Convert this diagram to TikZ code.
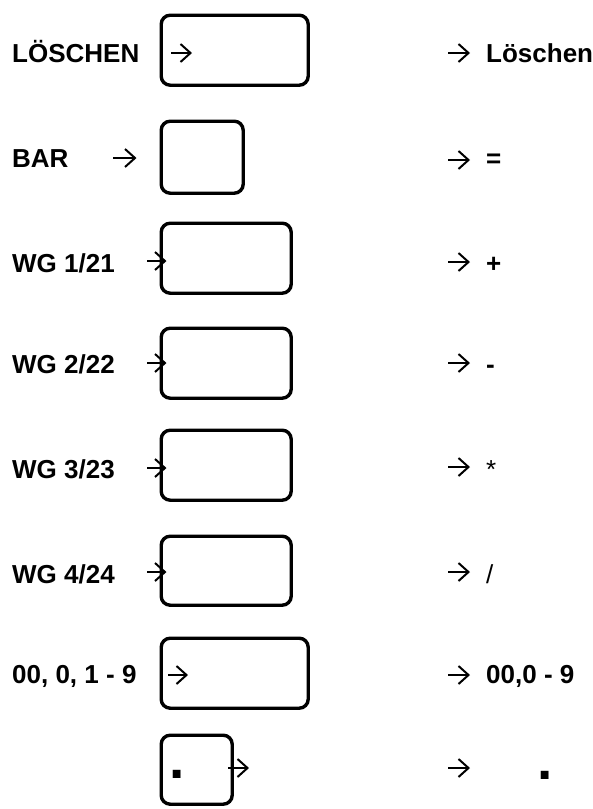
\documentclass[tikz,border=0pt]{standalone}
\usepackage{fontspec}
\setmainfont{Liberation Sans}
\usetikzlibrary{arrows.meta, positioning}

\tikzset{
    taste/.style = {draw, line width = 3.4pt, rounded corners = 9pt, inner sep = 0pt, anchor = north west},
    beschriftung/.style = {font = \bfseries\fontsize{26}{30}\selectfont, anchor = base west, inner sep = 0pt},
    zeichen/.style = {font = \fontsize{26}{30}\selectfont, anchor = base west, inner sep = 0pt},
    punkt/.style = {font = \bfseries\fontsize{55}{55}\selectfont, anchor = base west, inner sep = 0pt},
    pfeil/.style = {-{Straight Barb[length = 10pt, width = 18pt]}, line width = 2pt},
}

\begin{document}
\begin{tikzpicture}[x = 1pt, y = -1pt]
    \useasboundingbox (0,0) rectangle (593,809);

    % Tasten
    \node[taste, minimum width = 147pt, minimum height = 70pt] (t1) at (159.5,13.5) {};
    \node[taste, minimum width = 82pt,  minimum height = 72pt] (t2) at (159.5,119.5) {};
    \node[taste, minimum width = 130pt, minimum height = 70pt] (t3) at (159.5,221.5) {};
    \node[taste, minimum width = 130pt, minimum height = 70pt] (t4) at (159.5,326.5) {};
    \node[taste, minimum width = 130pt, minimum height = 70pt] (t5) at (159.5,428.5) {};
    \node[taste, minimum width = 130pt, minimum height = 69pt] (t6) at (159.5,534.5) {};
    \node[taste, minimum width = 147pt, minimum height = 70pt] (t7) at (159.5,636.5) {};
    \node[taste, minimum width = 71pt,  minimum height = 69pt] (t8) at (159.5,733.5) {};

    % linke Spalte
    \node[beschriftung] (l1) at (12,62)  {LÖSCHEN};
    \node[beschriftung] (l2) at (12,167) {BAR};
    \node[beschriftung] (l3) at (12,272) {WG 1/21};
    \node[beschriftung] (l4) at (12,373) {WG 2/22};
    \node[beschriftung] (l5) at (12,478) {WG 3/23};
    \node[beschriftung] (l6) at (12,583) {WG 4/24};
    \node[beschriftung] (l7) at (12,683) {00, 0, 1 - 9};
    \node[punkt] (p8) at (169,778) {.};

    \coordinate (a1) at (171,53);
    \coordinate (b1) at (192,53);
    \coordinate (a2) at (113,158);
    \coordinate (a3) at (147,261);
    \coordinate (a4) at (147,363);
    \coordinate (a5) at (147,468);
    \coordinate (a6) at (147,572);
    \coordinate (a7) at (168,675);
    \coordinate (b7) at (188,675);
    \coordinate (a8) at (228,768);
    \coordinate (b8) at (249,768);

    \draw[pfeil] (a1) -- (b1);
    \draw[pfeil, shorten > = 23pt] (a2) -- (a2 -| t2.west);
    \draw[pfeil, shorten > = -7pt] (a3) -- (a3 -| t3.west);
    \draw[pfeil, shorten > = -7pt] (a4) -- (a4 -| t4.west);
    \draw[pfeil, shorten > = -7pt] (a5) -- (a5 -| t5.west);
    \draw[pfeil, shorten > = -7pt] (a6) -- (a6 -| t6.west);
    \draw[pfeil] (a7) -- (b7);
    \draw[pfeil] (a8) -- (b8);

    % rechte Spalte
    \node[beschriftung] (r1) at (486,62)  {Löschen};
    \node[beschriftung] (r2) at (486,167) {=};
    \node[beschriftung] (r3) at (486,272) {+};
    \node[beschriftung] (r4) at (486,373) {-};
    \node[zeichen]      (r5) at (486,478) {*};
    \node[zeichen]      (r6) at (486,583) {/};
    \node[beschriftung] (r7) at (486,683) {00,0 - 9};
    \node[punkt]        (r8) at (537,779) {.};

    \coordinate (q1) at (448,53);
    \coordinate (q2) at (448,160);
    \coordinate (q3) at (448,262);
    \coordinate (q4) at (448,363);
    \coordinate (q5) at (448,467);
    \coordinate (q6) at (448,572);
    \coordinate (q7) at (448,675);
    \coordinate (q8) at (448,768);
    \coordinate (s8) at (470,768);

    \draw[pfeil, shorten > = 16pt] (q1) -- (q1 -| r1.west);
    \draw[pfeil, shorten > = 16pt] (q2) -- (q2 -| r2.west);
    \draw[pfeil, shorten > = 16pt] (q3) -- (q3 -| r3.west);
    \draw[pfeil, shorten > = 16pt] (q4) -- (q4 -| r4.west);
    \draw[pfeil, shorten > = 16pt] (q5) -- (q5 -| r5.west);
    \draw[pfeil, shorten > = 16pt] (q6) -- (q6 -| r6.west);
    \draw[pfeil, shorten > = 16pt] (q7) -- (q7 -| r7.west);
    \draw[pfeil] (q8) -- (s8);
\end{tikzpicture}
\end{document}
